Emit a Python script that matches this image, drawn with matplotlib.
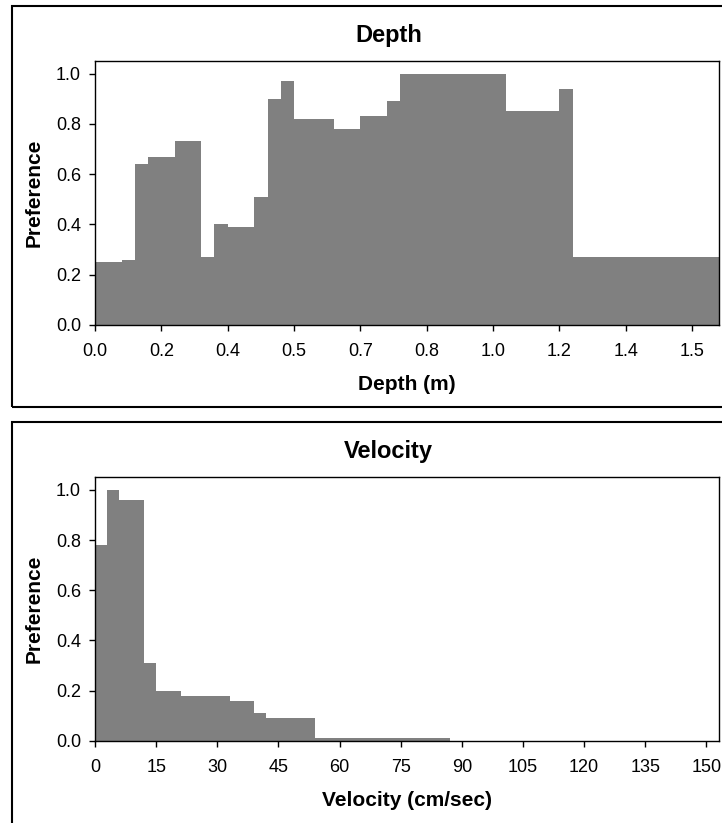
import numpy as np
import matplotlib
matplotlib.use("Agg")
import matplotlib.pyplot as plt
from matplotlib.patches import Rectangle

# --- Data ---
# Depth: x is in category steps (5 categories per labelled tick)
depth_edges = [0, 2, 3, 4, 6, 8, 9, 10, 12, 13, 14, 15, 18, 20, 22, 23, 31, 35, 36, 47]
depth_pref = [0.25, 0.26, 0.64, 0.67, 0.73, 0.27, 0.40, 0.39, 0.51, 0.90,
              0.97, 0.82, 0.78, 0.83, 0.89, 1.00, 0.85, 0.94, 0.27]
depth_ticks = [0, 5, 10, 15, 20, 25, 30, 35, 40, 45]
depth_tick_labels = ['0.0', '0.2', '0.4', '0.5', '0.7', '0.8', '1.0', '1.2', '1.4', '1.5']

# Velocity in cm/sec
velocity_edges = [0, 3, 6, 12, 15, 21, 33, 39, 42, 54, 87, 153]
velocity_pref = [0.78, 1.00, 0.96, 0.31, 0.20, 0.18, 0.16, 0.11, 0.09, 0.01, 0.0]
velocity_ticks = [0, 15, 30, 45, 60, 75, 90, 105, 120, 135, 150]
velocity_tick_labels = [str(v) for v in velocity_ticks]

pref_ticks = [0.0, 0.2, 0.4, 0.6, 0.8, 1.0]

BAR_COLOR = '#808080'
FONT = ['Liberation Sans', 'DejaVu Sans']


def draw_panel(ax, edges, values, ticks, tick_labels, xmax, title, xlabel):
    """Draw one step-style preference histogram in Excel look."""
    edges = np.asarray(edges, dtype=float)
    ax.bar(edges[:-1], values, width=np.diff(edges), align='edge',
           color=BAR_COLOR, linewidth=0)

    ax.set_xlim(0, xmax)
    ax.set_ylim(0, 1.05)
    ax.set_xticks(ticks)
    ax.set_xticklabels(tick_labels)
    ax.set_yticks(pref_ticks)
    ax.set_yticklabels([f'{v:.1f}' for v in pref_ticks])

    ax.tick_params(axis='both', direction='out', length=4, width=1,
                   labelsize=13)
    ax.tick_params(axis='x', pad=9)
    ax.tick_params(axis='y', pad=6)
    for spine in ax.spines.values():
        spine.set_linewidth(1.0)
        spine.set_color('black')

    ax.text(0.471, 1.073, title, transform=ax.transAxes, ha='center',
            va='baseline', fontsize=17, fontweight='bold')
    ax.set_xlabel(xlabel, fontsize=15, fontweight='bold')
    ax.xaxis.set_label_coords(0.5, -0.19)
    ax.set_ylabel('Preference', fontsize=15, fontweight='bold')
    ax.yaxis.set_label_coords(-0.082, 0.5)


plt.rcParams['font.family'] = FONT

W, H = 722, 823
fig = plt.figure(figsize=(W / 100, H / 100), dpi=100)

# --- Outer chart boxes (cropped on the right / bottom like the source) ---
box_lw = 1.5
fig.add_artist(Rectangle((12 / W, 1 - 407 / H), 760 / W, 401 / H,
                         transform=fig.transFigure, fill=False,
                         edgecolor='black', linewidth=box_lw, clip_on=False))
fig.add_artist(Rectangle((12 / W, -0.2), 760 / W, 1 - 422 / H + 0.2,
                         transform=fig.transFigure, fill=False,
                         edgecolor='black', linewidth=box_lw, clip_on=False))

# --- Plot areas ---
ax_depth = fig.add_axes([95 / W, 1 - 325 / H, 623.7 / W, 264 / H])
ax_vel = fig.add_axes([95 / W, 1 - 740.7 / H, 623.7 / W, 263.4 / H])

draw_panel(ax_depth, depth_edges, depth_pref, depth_ticks, depth_tick_labels,
           47, 'Depth', 'Depth (m)')
draw_panel(ax_vel, velocity_edges, velocity_pref, velocity_ticks,
           velocity_tick_labels, 153, 'Velocity', 'Velocity (cm/sec)')

fig.savefig('out.png', dpi=100)
